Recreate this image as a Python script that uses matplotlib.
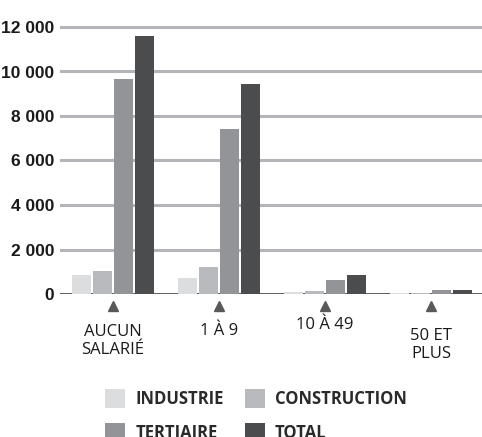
import matplotlib
matplotlib.use("Agg")
import matplotlib.pyplot as plt
import numpy as np
from matplotlib.patches import Patch

categories = ["AUCUN\nSALARIÉ", "1 À 9", "10 À 49", "50 ET\nPLUS"]
series_names = ["INDUSTRIE", "CONSTRUCTION", "TERTIAIRE", "TOTAL"]
industrie = [840, 735, 90, 50]
construction = [1035, 1225, 120, 60]
tertiaire = [9660, 7415, 630, 180]
total = [11580, 9440, 870, 195]
yticks = [0, 2000, 4000, 6000, 8000, 10000, 12000]
colors = ["#dcdddf", "#b9babd", "#939497", "#4b4c4e"]

W, H = 482, 437
fig = plt.figure(figsize=(W / 100, H / 100), dpi=100)

# axes geometry (pixels)
x0, base, top12 = 60, 294, 27
px_per_unit = (base - top12) / 12000
ymax = 12500
ax_h = ymax * px_per_unit
ax = fig.add_axes([x0 / W, (H - base) / H, 424 / W, ax_h / H])

data = [industrie, construction, tertiaire, total]
x = np.arange(len(categories))
step = 21 / 106
bw = 19 / 106
for k, (vals, c) in enumerate(zip(data, colors)):
    ax.bar(x + (k - 1.5) * step, vals, width=bw, color=c, zorder=3, linewidth=0)

ax.set_xlim(-0.5, len(categories) - 0.5)
ax.set_ylim(0, ymax)
ax.set_yticks(yticks)
ax.set_yticklabels([f"{v:,}".replace(",", " ") for v in yticks],
                   fontfamily="Liberation Sans", fontweight="bold", fontsize=12.5, color="#1a1a1a")
ax.tick_params(axis="y", length=0, pad=4)
ax.set_xticks([])
for s in ax.spines.values():
    s.set_visible(False)
for v in yticks[1:]:
    ax.axhline(v, color="#b4b5b8", lw=2.2, zorder=1)
ax.axhline(0, color="#333333", lw=1.1, zorder=2)

# triangles under each group
ax.plot(x, [-12 / px_per_unit] * len(x), linestyle="none", marker="^", markersize=7,
        color="#58595b", clip_on=False, zorder=5)

label_off = [47, 37, 31, 51]
for i, (lab, off) in enumerate(zip(categories, label_off)):
    ax.annotate(lab, xy=(i, 0), xytext=(0, -off * 0.72), textcoords="offset points",
                ha="center", va="center", fontsize=12, fontfamily="Open Sans",
                color="#1a1a1a", linespacing=1.25, annotation_clip=False)

order = [0, 2, 1, 3]
handles = [Patch(facecolor=colors[i], edgecolor="none") for i in order]
labels = [series_names[i] for i in order]
fs = 12
fpx = fs * 100 / 72
leg = fig.legend(handles, labels, ncol=2, loc="upper left",
                 bbox_to_anchor=(97 / W, 1 - 381 / H), frameon=False, borderpad=0,
                 handlelength=20 / fpx, handleheight=22 / fpx, handletextpad=0.6,
                 columnspacing=1.25, labelspacing=0.9,
                 prop={"family": "Open Sans", "weight": "bold", "size": fs})
for t in leg.get_texts():
    t.set_color("#2a2a2a")

fig.savefig("out.png", dpi=100)
